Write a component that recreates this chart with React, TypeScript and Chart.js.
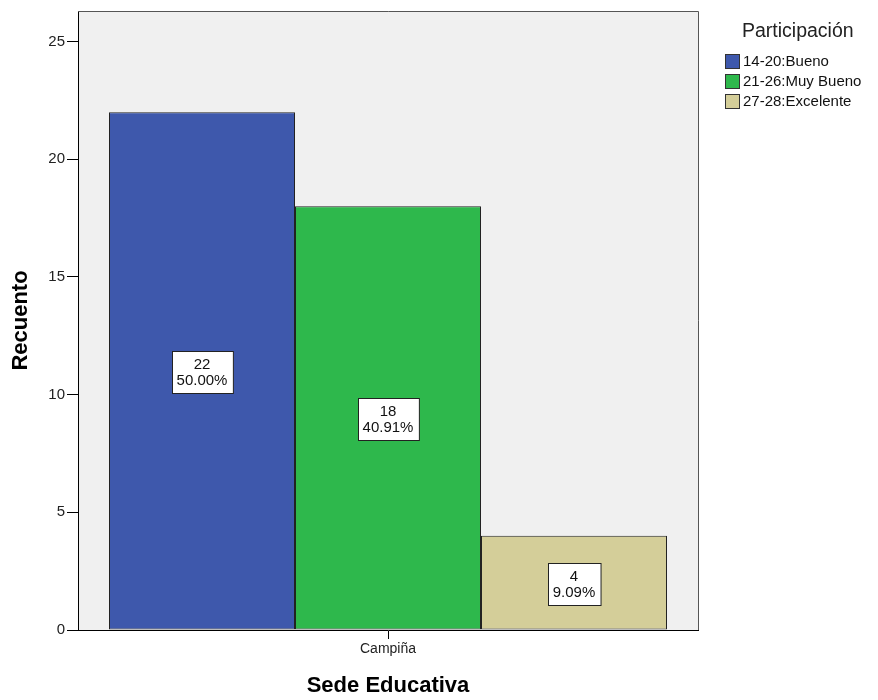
import React, { useEffect, useRef } from "react";
import { Chart, registerables } from "chart.js";

Chart.register(...registerables);

const categories = ["Campiña"];
const seriesNames = ["14-20:Bueno", "21-26:Muy Bueno", "27-28:Excelente"];
const seriesCounts = [22, 18, 4];
const seriesPercents = ["50.00%", "40.91%", "9.09%"];
const seriesColors = ["#3E58AC", "#2EB84C", "#D4CE99"];
const yTicks = [0, 5, 10, 15, 20, 25];

const FONT = "'Liberation Sans', Arial, sans-serif";

const plotBgPlugin = {
  id: "plotBg",
  beforeDraw(chart: any) {
    const { ctx, chartArea } = chart;
    ctx.save();
    ctx.fillStyle = "#F0F0F0";
    ctx.fillRect(chartArea.left, chartArea.top, chartArea.right - chartArea.left, chartArea.bottom - chartArea.top);
    ctx.restore();
  },
  afterDatasetsDraw(chart: any) {
    const { ctx, chartArea } = chart;
    ctx.save();
    ctx.strokeStyle = "#555";
    ctx.lineWidth = 1;
    ctx.beginPath();
    ctx.moveTo(chartArea.left, chartArea.top + 0.5);
    ctx.lineTo(chartArea.right + 0.5, chartArea.top + 0.5);
    ctx.lineTo(chartArea.right + 0.5, chartArea.bottom);
    ctx.stroke();
    ctx.restore();
  },
};

const boxLabelPlugin = {
  id: "boxLabels",
  afterDatasetsDraw(chart: any) {
    const { ctx } = chart;
    ctx.save();
    ctx.font = `15px ${FONT}`;
    ctx.textAlign = "center";
    ctx.textBaseline = "middle";
    chart.data.datasets.forEach((ds: any, i: number) => {
      const meta = chart.getDatasetMeta(i);
      const bar: any = meta.data[0];
      if (!bar) return;
      const lines = [String(seriesCounts[i]), seriesPercents[i]];
      const w = Math.max(...lines.map((l) => ctx.measureText(l).width)) + 10;
      const lh = 16;
      const h = lh * 2 + 10;
      const cx = bar.x;
      const cy = (bar.y + bar.base) / 2 + 1;
      const x0 = Math.round(cx - w / 2) + 0.5;
      const y0 = Math.round(cy - h / 2) + 0.5;
      ctx.fillStyle = "#FFFFFF";
      ctx.fillRect(x0, y0, w, h);
      ctx.strokeStyle = "#222";
      ctx.lineWidth = 1;
      ctx.strokeRect(x0, y0, w, h);
      ctx.fillStyle = "#111";
      ctx.fillText(lines[0], cx, cy - lh / 2 + 1);
      ctx.fillText(lines[1], cx, cy + lh / 2 + 1);
    });
    ctx.restore();
  },
};

export default function App() {
  const ref = useRef<HTMLCanvasElement>(null);
  useEffect(() => {
    if (!ref.current) return;
    const chart = new Chart(ref.current, {
      type: "bar",
      data: {
        labels: categories,
        datasets: seriesNames.map((name, i) => ({
          label: name,
          data: [seriesCounts[i]],
          backgroundColor: seriesColors[i],
          borderColor: "#222222",
          borderWidth: 1,
          borderSkipped: false,
          barPercentage: 1,
          categoryPercentage: 0.9,
        })),
      },
      options: {
        animation: false,
        responsive: false,
        maintainAspectRatio: false,
        layout: { padding: { left: 0, top: 9, right: 180, bottom: 0 } },
        plugins: {
          legend: { display: false },
          tooltip: { enabled: false },
        },
        scales: {
          x: {
            grid: {
              display: true,
              drawOnChartArea: false,
              drawTicks: true,
              tickLength: 9,
              offset: false,
              color: "#000",
            },
            border: { display: true, color: "#000", width: 1 },
            ticks: { color: "#222", font: { size: 14, family: FONT }, padding: 2 },
            title: {
              display: true,
              text: "Sede Educativa",
              color: "#000",
              font: { size: 22, weight: "bold", family: FONT },
              padding: { top: 0, bottom: 1 },
            },
            afterFit(scale: any) {
              scale.height = 70;
            },
          },
          y: {
            min: 0,
            max: 26.3,
            afterBuildTicks(scale: any) {
              scale.ticks = yTicks.map((v) => ({ value: v }));
            },
            grid: {
              display: true,
              drawOnChartArea: false,
              drawTicks: true,
              tickLength: 11,
              color: "#000",
            },
            border: { display: true, color: "#000", width: 1 },
            ticks: { color: "#222", font: { size: 15, family: FONT }, padding: 2 },
            title: {
              display: true,
              text: "Recuento",
              color: "#000",
              font: { size: 22, weight: "bold", family: FONT },
              padding: { top: 8, bottom: 0 },
            },
            afterFit(scale: any) {
              scale.width = 78;
            },
          },
        },
      },
      plugins: [plotBgPlugin, boxLabelPlugin],
    });
    return () => chart.destroy();
  }, []);

  return (
    <div style={{ position: "fixed", left: 0, top: 0, width: 878, height: 700, background: "#fff", fontFamily: FONT }}>
      <canvas ref={ref} width={878} height={700} style={{ position: "absolute", left: 0, top: 0 }} />
      <div style={{ position: "absolute", left: 742, top: 18, fontSize: 19.5, color: "#222", whiteSpace: "nowrap", lineHeight: "24px" }}>
        Participación
      </div>
      {seriesNames.map((name, i) => (
        <div
          key={name}
          style={{ position: "absolute", left: 725, top: 51 + i * 20, height: 20, display: "flex", alignItems: "center", whiteSpace: "nowrap" }}
        >
          <span style={{ display: "inline-block", width: 13, height: 13, background: seriesColors[i], border: "1px solid #333", marginRight: 3 }} />
          <span style={{ fontSize: 15, color: "#111", lineHeight: "20px" }}>{name}</span>
        </div>
      ))}
    </div>
  );
}
